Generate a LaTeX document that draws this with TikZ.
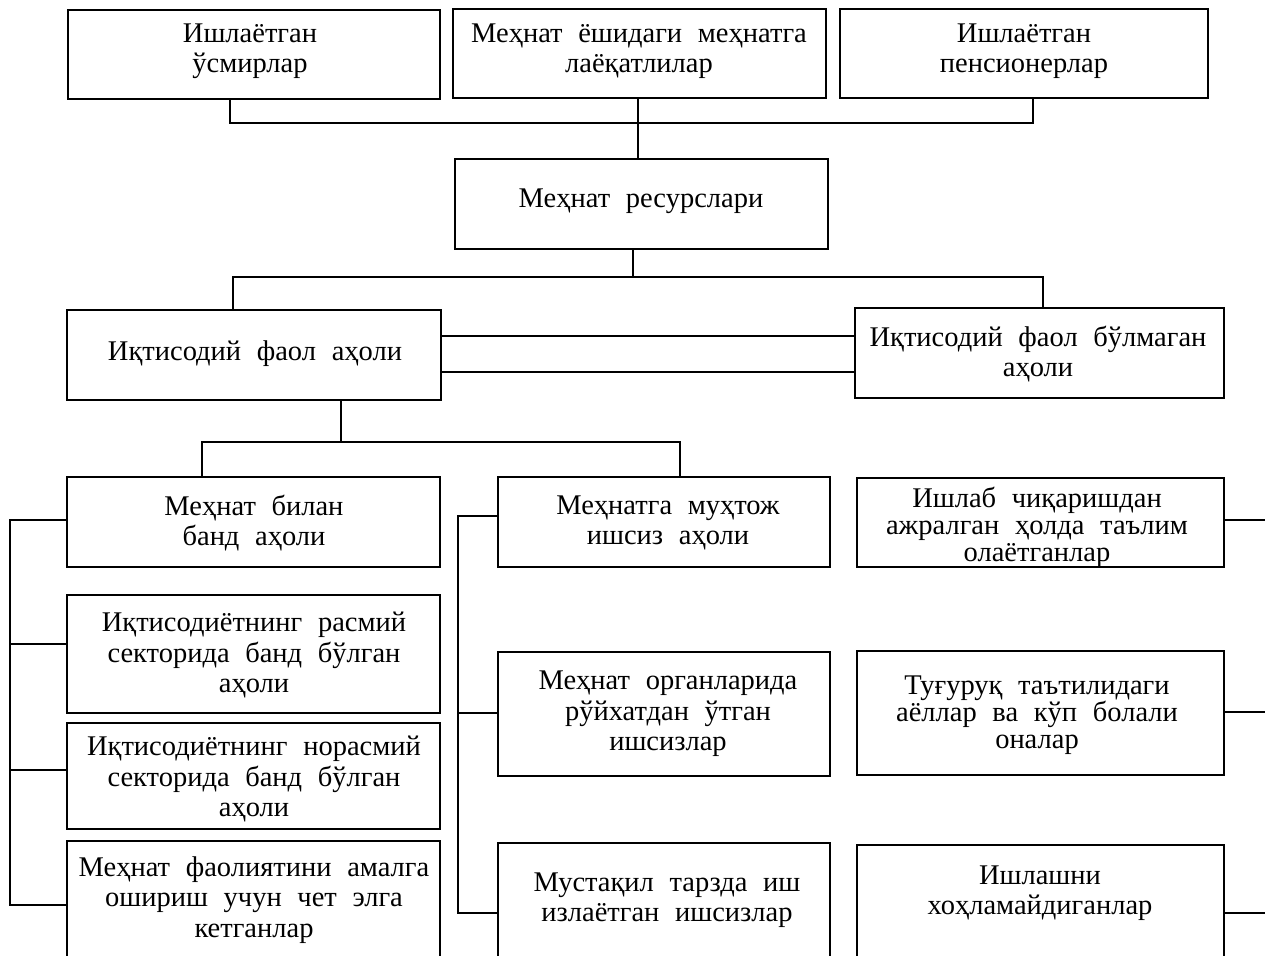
\documentclass[tikz,border=0pt]{standalone}
\usepackage{fontspec}
\setmainfont{Liberation Serif}[WordSpace=2.2]
\begin{document}
\begin{tikzpicture}[x=1pt,y=-1pt,
  box/.style={draw, line width=2.8pt, inner sep=0pt, minimum width=#1},
  txt/.style={align=center, inner sep=0pt, font=\fontsize{28.5}{30.5}\selectfont},
  txtt/.style={align=center, inner sep=0pt, font=\fontsize{28.5}{27}\selectfont},
  con/.style={line width=2.8pt}]
\useasboundingbox (0,0) rectangle (1265,955);
\clip (0,0) rectangle (1265,955);
% boxes
\node[box=372pt, minimum height=89pt] (a) at (254,54.5) {};
\node[box=373pt, minimum height=89pt] (b) at (639.5,53.5) {};
\node[box=368pt, minimum height=89pt] (c) at (1024,53.5) {};
\node[box=373pt, minimum height=90pt] (mr) at (641.5,204) {};
\node[box=374pt, minimum height=90pt] (ifa) at (254,355) {};
\node[box=369pt, minimum height=90pt] (ifb) at (1039.5,353) {};
\node[box=373pt, minimum height=90pt] (mba) at (253.5,522) {};
\node[box=332pt, minimum height=90pt] (muh) at (664,522) {};
\node[box=367pt, minimum height=89pt] (ish) at (1040.5,522.5) {};
\node[box=373pt, minimum height=118pt] (ras) at (253.5,654) {};
\node[box=373pt, minimum height=106pt] (nor) at (253.5,776) {};
\node[box=373pt, minimum height=139pt] (fao) at (253.5,910.5) {};
\node[box=332pt, minimum height=124pt] (org) at (664,714) {};
\node[box=332pt, minimum height=137pt] (mus) at (664,911.5) {};
\node[box=367pt, minimum height=124pt] (tug) at (1040.5,713) {};
\node[box=367pt, minimum height=135pt] (xoh) at (1040.5,912.5) {};
% texts
\node[txt] (at) at (250,51) {Ишлаётган\\ўсмирлар};
\node[txt] (bt) at (639,51) {Меҳнат ёшидаги меҳнатга\\лаёқатлилар};
\node[txt] (ct) at (1024,51) {Ишлаётган\\пенсионерлар};
\node[txt] (mrt) at (641,201) {Меҳнат ресурслари};
\node[txt] (ifat) at (255,354) {Иқтисодий фаол аҳоли};
\node[txt] (ifbt) at (1038,354) {Иқтисодий фаол бўлмаган\\аҳоли};
\node[txt] (mbat) at (254,523) {Меҳнат билан\\банд аҳоли};
\node[txt] (muht) at (668,523) {Меҳнатга муҳтож\\ишсиз аҳоли};
\node[txtt] (isht) at (1037,527) {Ишлаб чиқаришдан\\ажралган ҳолда таълим\\олаётганлар};
\node[txt] (rast) at (254,655) {Иқтисодиётнинг расмий\\секторида банд бўлган\\аҳоли};
\node[txt] (nort) at (254,779) {Иқтисодиётнинг норасмий\\секторида банд бўлган\\аҳоли};
\node[txt] (faot) at (254,900) {Меҳнат фаолиятини амалга\\ошириш учун чет элга\\кетганлар};
\node[txt] (orgt) at (668,714) {Меҳнат органларида\\рўйхатдан ўтган\\ишсизлар};
\node[txt] (must) at (667,900) {Мустақил тарзда иш\\излаётган ишсизлар};
\node[txtt] (tugt) at (1037,715) {Туғуруқ таътилидаги\\аёллар ва кўп болали\\оналар};
\node[txt] (xoht) at (1040,893) {Ишлашни\\хоҳламайдиганлар};
% connectors top
\coordinate (j1) at (638,123);
\draw[con] ([xshift=-24]a.south) |- (j1) -| ([xshift=9]c.south);
\draw[con] ([xshift=-1.5]b.south) -- ([xshift=-1.5]b.south |- mr.north);
\coordinate (j2) at (633,277);
\draw[con] ([xshift=-8.5]mr.south) -- (j2);
\draw[con] ([xshift=-21]ifa.north) |- (j2) -| ([xshift=3.5]ifb.north);
\coordinate (d1) at ([yshift=19]ifa.east);
\coordinate (d2) at ([yshift=-17]ifa.east);
\draw[con] (d1) -- (d1 -| ifb.west);
\draw[con] (d2) -- (d2 -| ifb.west);
\coordinate (j3) at (341,442);
\draw[con] ([xshift=87]ifa.south) -- (j3);
\draw[con] ([xshift=-51.5]mba.north) |- (j3) -| ([xshift=16]muh.north);
% left bracket
\coordinate (lb) at (10,905);
\coordinate (t1) at ([yshift=2]mba.west);
\coordinate (t2) at ([yshift=10]ras.west);
\coordinate (t3) at ([yshift=6]nor.west);
\draw[con] (t1) -| (lb) -- (lb -| fao.west);
\draw[con] (t2) -- (t2 -| lb);
\draw[con] (t3) -- (t3 -| lb);
% middle bracket
\coordinate (mb) at (458,913);
\coordinate (m1) at ([yshift=6]muh.west);
\coordinate (m2) at ([yshift=1]org.west);
\draw[con] (m1) -| (mb) -- (mb -| mus.west);
\draw[con] (m2) -- (m2 -| mb);
% right stubs
\coordinate (r1) at ([yshift=2.5]ish.east);
\coordinate (r2) at ([yshift=1]tug.east);
\coordinate (r3) at (1224,913);
\coordinate (e1) at (1266,0);
\draw[con] (r1) -- (r1 -| e1);
\draw[con] (r2) -- (r2 -| e1);
\draw[con] (r3) -- (r3 -| e1);
\end{tikzpicture}
\end{document}
